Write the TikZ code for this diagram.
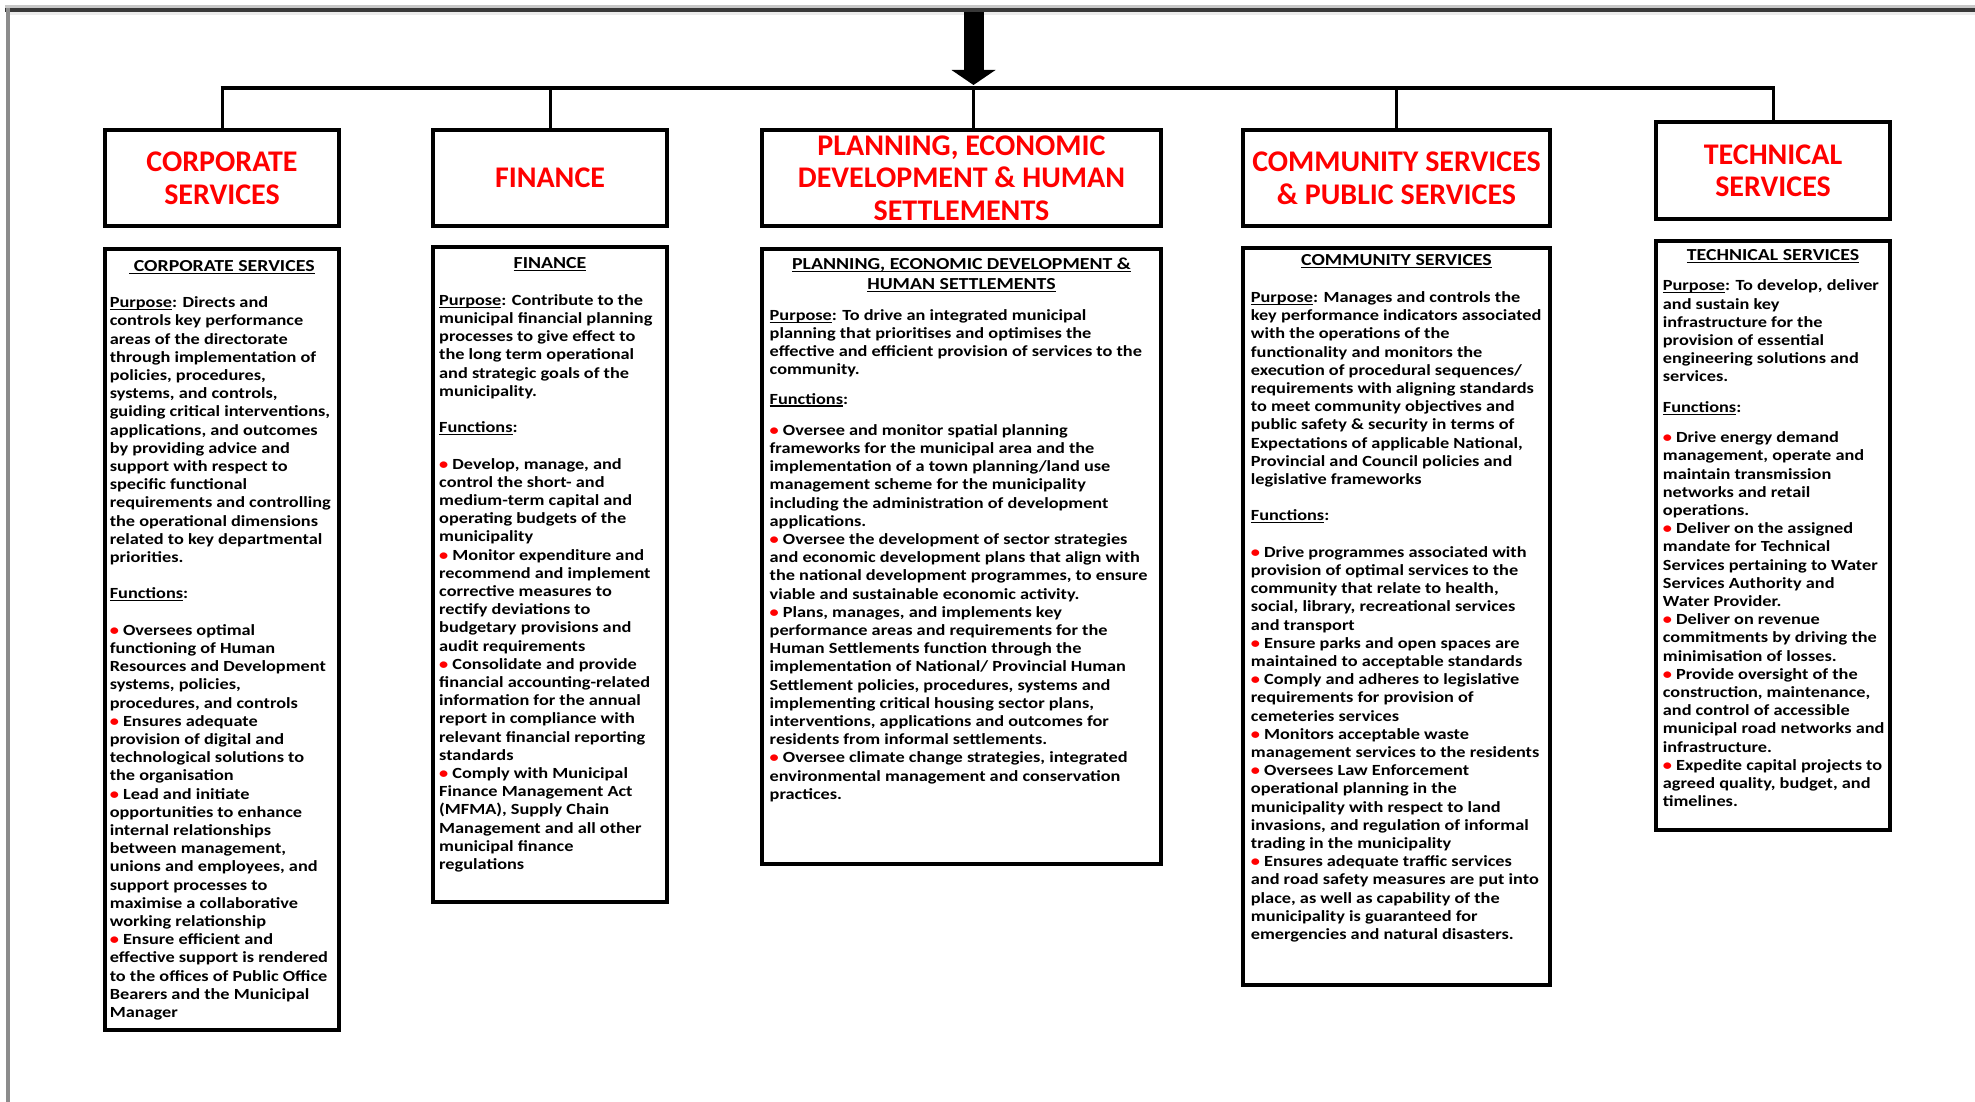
\documentclass[tikz,border=0pt]{standalone}
\usepackage{fontspec}
\setmainfont{Carlito}
\newfontfamily\bodyf{Carlito}[FakeStretch=1.18]
\usetikzlibrary{arrows.meta}
\newcommand\myul[1]{\setbox0\hbox{#1}\rlap{\rule[-2.5pt]{\wd0}{1.1pt}}\box0}
\newcommand\bu{{\color{red}\textbullet}\ }
\newcommand\fs{\rule{0pt}{13pt}}
\newcommand\bl{18.2pt}
\begin{document}
\begin{tikzpicture}[x=1pt,y=-1pt,
  hbox/.style={draw, line width=4pt, inner sep=0pt, align=center, text=red,
    font=\fontsize{30}{32.7}\selectfont\bfseries},
  dbox/.style={draw, line width=4pt, inner sep=0pt},
  ttl/.style={anchor=north, inner sep=0pt, align=center,
    font=\bodyf\fontsize{16.8}{18.2}\selectfont\bfseries},
  body/.style={anchor=north west, inner sep=0pt, align=left,
    font=\bodyf\fontsize{15.5}{18.2}\selectfont\bfseries},
  link/.style={line width=3pt},
  hbar/.style={line width=4pt}]
\useasboundingbox (0,0) rectangle (1975,1102);
\fill[white] (0,0) rectangle (1975,1102);
% page frame
\fill[black!22] (5,5) rectangle (1975,8);
\fill[black!78] (5,8) rectangle (1975,12);
\fill[black!8] (9,12) rectangle (1975,15);
\fill[black!45] (6,8) rectangle (9.5,1102);

% header boxes
\node[hbox, minimum width=234pt, minimum height=96pt] (h1) at (222,178) {CORPORATE\\SERVICES};
\node[hbox, minimum width=234pt, minimum height=96pt] (h2) at (550,178) {FINANCE};
\node[hbox, minimum width=399pt, minimum height=96pt] (h3) at (961.5,178) {PLANNING, ECONOMIC\\DEVELOPMENT \& HUMAN\\SETTLEMENTS};
\node[hbox, minimum width=307pt, minimum height=96pt] (h4) at (1396.5,178) {COMMUNITY SERVICES\\\& PUBLIC SERVICES};
\node[hbox, minimum width=234pt, minimum height=96.5pt] (h5) at (1773,170.75) {TECHNICAL\\SERVICES};

% connectors
\coordinate (top) at (973.5,12);
\coordinate (tip) at (973.5,85);
\coordinate (bar) at (973.5,88);
\draw[line width=20pt, -{Triangle[width=44pt,length=15pt,line width=0pt]}] (top) -- (tip);
\draw[hbar] ([xshift=-1.5pt]h1.north |- bar) -- ([xshift=1.5pt]h5.north |- bar);
\draw[link] (h1.north |- bar) -- (h1.north);
\draw[link] (h2.north |- bar) -- (h2.north);
\draw[link] (bar) -- (bar |- h3.north);
\draw[link] (h4.north |- bar) -- (h4.north);
\draw[link] (h5.north |- bar) -- (h5.north);

% detail boxes
\node[dbox, minimum width=234pt, minimum height=781pt] (d1) at (222,639.5) {};
\node[dbox, minimum width=234pt, minimum height=655pt] (d2) at (550,574.5) {};
\node[dbox, minimum width=399pt, minimum height=615pt] (d3) at (961.5,556.5) {};
\node[dbox, minimum width=307pt, minimum height=737pt] (d4) at (1396.5,616.5) {};
\node[dbox, minimum width=234pt, minimum height=589pt] (d5) at (1773,535.5) {};

% ---- box 1
\node[ttl] (t1) at (222,258) {\fs\myul{\ CORPORATE SERVICES}};
\node[body] (b1) at (109.6,294.4) {\fs\myul{Purpose}: Directs and\\
controls key performance\\
areas of the directorate\\
through implementation of\\
policies, procedures,\\
systems, and controls,\\
guiding critical interventions,\\
applications, and outcomes\\
by providing advice and\\
support with respect to\\
specific functional\\
requirements and controlling\\
the operational dimensions\\
related to key departmental\\
priorities.\\[\bl]
\myul{Functions}:\\[\bl]
\bu Oversees optimal\\
functioning of Human\\
Resources and Development\\
systems, policies,\\
procedures, and controls\\
\bu Ensures adequate\\
provision of digital and\\
technological solutions to\\
the organisation\\
\bu Lead and initiate\\
opportunities to enhance\\
internal relationships\\
between management,\\
unions and employees, and\\
support processes to\\
maximise a collaborative\\
working relationship\\
\bu Ensure efficient and\\
effective support is rendered\\
to the offices of Public Office\\
Bearers and the Municipal\\
Manager};

% ---- box 2
\node[ttl] (t2) at (550,255) {\fs\myul{FINANCE}};
\node[body] (b2) at (439,292) {\fs\myul{Purpose}: Contribute to the\\
municipal financial planning\\
processes to give effect to\\
the long term operational\\
and strategic goals of the\\
municipality.\\[\bl]
\myul{Functions}:\\[\bl]
\bu Develop, manage, and\\
control the short- and\\
medium-term capital and\\
operating budgets of the\\
municipality\\
\bu Monitor expenditure and\\
recommend and implement\\
corrective measures to\\
rectify deviations to\\
budgetary provisions and\\
audit requirements\\
\bu Consolidate and provide\\
financial accounting-related\\
information for the annual\\
report in compliance with\\
relevant financial reporting\\
standards\\
\bu Comply with Municipal\\
Finance Management Act\\
(MFMA), Supply Chain\\
Management and all other\\
municipal finance\\
regulations};

% ---- box 3
\node[ttl] (t3) at (961.5,256) {\fs\myul{PLANNING, ECONOMIC DEVELOPMENT \&}\\[1.8pt]\myul{HUMAN SETTLEMENTS}};
\node[body] (b3) at (769.5,307) {\fs\myul{Purpose}: To drive an integrated municipal\\
planning that prioritises and optimises the\\
effective and efficient provision of services to the\\
community.\\[11pt]
\myul{Functions}:\\[13pt]
\bu Oversee and monitor spatial planning\\
frameworks for the municipal area and the\\
implementation of a town planning/land use\\
management scheme for the municipality\\
including the administration of development\\
applications.\\
\bu Oversee the development of sector strategies\\
and economic development plans that align with\\
the national development programmes, to ensure\\
viable and sustainable economic activity.\\
\bu Plans, manages, and implements key\\
performance areas and requirements for the\\
Human Settlements function through the\\
implementation of National/ Provincial Human\\
Settlement policies, procedures, systems and\\
implementing critical housing sector plans,\\
interventions, applications and outcomes for\\
residents from informal settlements.\\
\bu Oversee climate change strategies, integrated\\
environmental management and conservation\\
practices.};

% ---- box 4
\node[ttl] (t4) at (1396.5,252.7) {\fs\myul{COMMUNITY SERVICES}};
\node[body] (b4) at (1250.7,289.3) {\fs\myul{Purpose}: Manages and controls the\\
key performance indicators associated\\
with the operations of the\\
functionality and monitors the\\
execution of procedural sequences/\\
requirements with aligning standards\\
to meet community objectives and\\
public safety \& security in terms of\\
Expectations of applicable National,\\
Provincial and Council policies and\\
legislative frameworks\\[\bl]
\myul{Functions}:\\[\bl]
\bu Drive programmes associated with\\
provision of optimal services to the\\
community that relate to health,\\
social, library, recreational services\\
and transport\\
\bu Ensure parks and open spaces are\\
maintained to acceptable standards\\
\bu Comply and adheres to legislative\\
requirements for provision of\\
cemeteries services\\
\bu Monitors acceptable waste\\
management services to the residents\\
\bu Oversees Law Enforcement\\
operational planning in the\\
municipality with respect to land\\
invasions, and regulation of informal\\
trading in the municipality\\
\bu Ensures adequate traffic services\\
and road safety measures are put into\\
place, as well as capability of the\\
municipality is guaranteed for\\
emergencies and natural disasters.};

% ---- box 5
\node[ttl] (t5) at (1773,247.7) {\fs\myul{TECHNICAL SERVICES}};
\node[body] (b5) at (1662.7,277.7) {\fs\myul{Purpose}: To develop, deliver\\
and sustain key\\
infrastructure for the\\
provision of essential\\
engineering solutions and\\
services.\\[12pt]
\myul{Functions}:\\[12.4pt]
\bu Drive energy demand\\
management, operate and\\
maintain transmission\\
networks and retail\\
operations.\\
\bu Deliver on the assigned\\
mandate for Technical\\
Services pertaining to Water\\
Services Authority and\\
Water Provider.\\
\bu Deliver on revenue\\
commitments by driving the\\
minimisation of losses.\\
\bu Provide oversight of the\\
construction, maintenance,\\
and control of accessible\\
municipal road networks and\\
infrastructure.\\
\bu Expedite capital projects to\\
agreed quality, budget, and\\
timelines.};
\end{tikzpicture}
\end{document}
